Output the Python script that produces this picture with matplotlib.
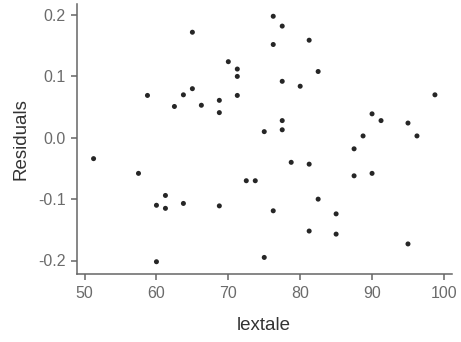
import matplotlib
matplotlib.use("Agg")
import matplotlib.pyplot as plt

# LexTALE score against model residuals
lextale = [
    51.25, 57.5, 58.75, 60.0, 60.0, 61.25, 61.25, 62.5, 63.75, 63.75,
    65.0, 65.0, 66.25, 68.75, 68.75, 68.75, 70.0, 71.25, 71.25, 71.25,
    72.5, 73.75, 75.0, 75.0, 76.25, 76.25, 76.25, 77.5, 77.5, 77.5,
    77.5, 78.75, 80.0, 81.25, 81.25, 81.25, 82.5, 82.5, 85.0, 85.0,
    87.5, 87.5, 88.75, 90.0, 90.0, 91.25, 95.0, 95.0, 96.25, 98.75,
]
residuals = [
    -0.034, -0.058, 0.069, -0.110, -0.202, -0.094, -0.115, 0.051, 0.070, -0.107,
    0.172, 0.080, 0.053, 0.061, 0.041, -0.111, 0.124, 0.112, 0.100, 0.069,
    -0.070, -0.070, -0.195, 0.010, 0.198, 0.152, -0.119, 0.182, 0.092, 0.028,
    0.013, -0.040, 0.084, 0.159, -0.043, -0.152, 0.108, -0.100, -0.124, -0.157,
    -0.018, -0.062, 0.003, 0.039, -0.058, 0.028, 0.024, -0.173, 0.003, 0.070,
]
x_ticks = [50, 60, 70, 80, 90, 100]
y_ticks = [-0.2, -0.1, 0.0, 0.1, 0.2]

plt.rcParams["font.family"] = ["Liberation Sans", "DejaVu Sans"]

fig = plt.figure(figsize=(4.61, 3.42), dpi=100)
ax = fig.add_axes([76.5 / 461, 68 / 342, (452 - 76.5) / 461, (274 - 4) / 342])

ax.scatter(lextale, residuals, s=13, color="#262626", edgecolors="none", zorder=3)

ax.margins(x=0.05, y=0.05)
ax.set_xticks(x_ticks)
ax.set_yticks(y_ticks)
ax.set_yticklabels([f"{v:.1f}" for v in y_ticks])

for side in ("top", "right"):
    ax.spines[side].set_visible(False)
for side in ("left", "bottom"):
    ax.spines[side].set_color("#666666")
    ax.spines[side].set_linewidth(1.1)

ax.tick_params(axis="both", direction="out", length=4, width=1.1,
               color="#666666", labelcolor="#6b6b6b", labelsize=11.5)
ax.tick_params(axis="x", pad=5)
ax.tick_params(axis="y", pad=4)

ax.set_xlabel("lextale", fontsize=13.5, color="#333333", labelpad=11)
ax.set_ylabel("Residuals", fontsize=13.5, color="#333333", labelpad=6)

fig.savefig("out.png", dpi=100)
